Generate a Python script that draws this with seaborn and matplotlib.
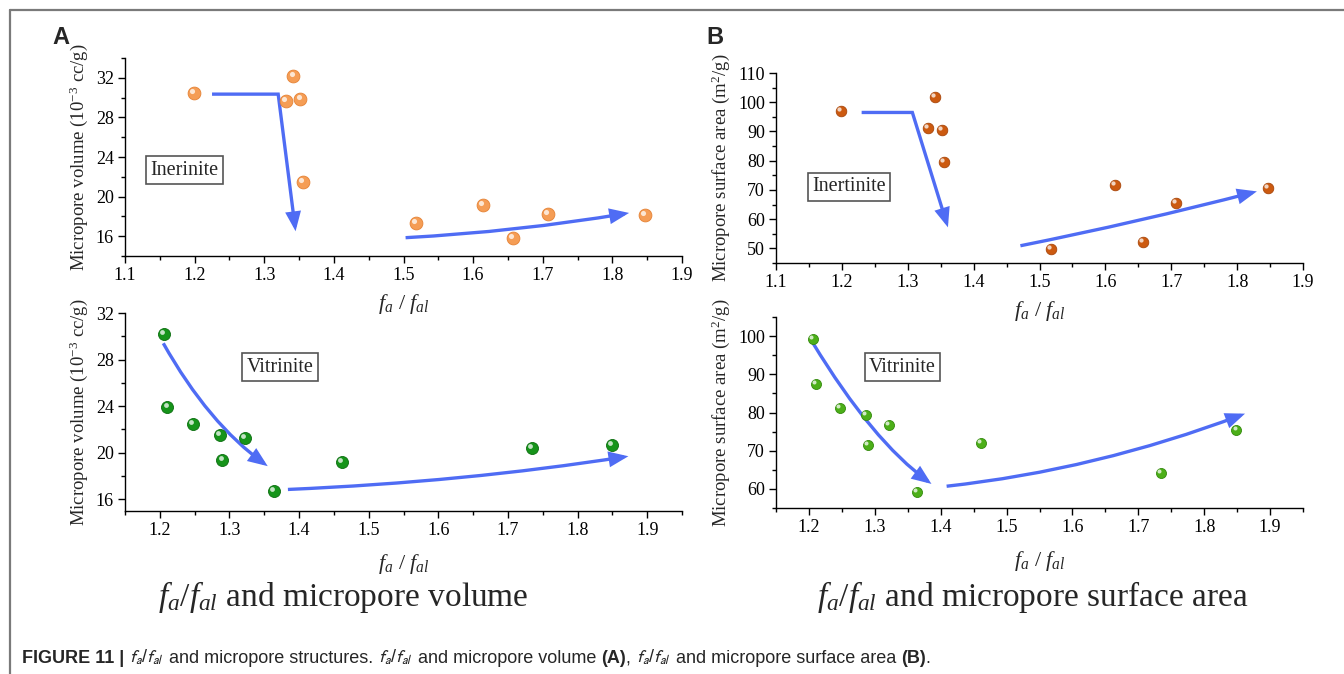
import matplotlib
matplotlib.use("Agg")
import matplotlib.pyplot as plt
import pandas as pd
import seaborn as sns
from matplotlib.patches import FancyArrowPatch
from matplotlib.path import Path
from matplotlib.lines import Line2D
from matplotlib.ticker import MultipleLocator
from matplotlib.transforms import ScaledTranslation

# ---- data -------------------------------------------------------------
inert_fa_fal = [1.199, 1.342, 1.331, 1.352, 1.355, 1.518, 1.614, 1.657, 1.707, 1.847]
inert_volume = [30.5, 32.2, 29.7, 29.9, 21.5, 17.3, 19.2, 15.8, 18.2, 18.1]
inert_area = [97.0, 101.8, 91.1, 90.6, 79.6, 49.9, 71.7, 52.2, 65.4, 70.6]

vitr_fa_fal = [1.206, 1.211, 1.247, 1.287, 1.290, 1.322, 1.364, 1.461, 1.735, 1.849]
vitr_volume = [30.2, 23.9, 22.45, 21.5, 19.4, 21.3, 16.75, 19.25, 20.45, 20.7]
vitr_area = [99.3, 87.5, 81.3, 79.4, 71.6, 76.7, 59.3, 72.0, 64.2, 75.5]

inert = pd.DataFrame({"fa_fal": inert_fa_fal, "volume": inert_volume, "area": inert_area})
vitr = pd.DataFrame({"fa_fal": vitr_fa_fal, "volume": vitr_volume, "area": vitr_area})

# trend arrows (data coordinates): (vertices, path codes)
L, Q = Path.LINETO, Path.CURVE3
arrows_vol_inert = [
    ([(1.225, 30.35), (1.320, 30.35), (1.345, 16.5)], [Path.MOVETO, L, L]),
    ([(1.503, 15.85), (1.6635, 16.46), (1.824, 18.35)], [Path.MOVETO, Q, Q]),
]
arrows_vol_vitr = [
    ([(1.205, 29.4), (1.27, 22.5), (1.355, 18.85)], [Path.MOVETO, Q, Q]),
    ([(1.384, 16.85), (1.6375, 17.5), (1.873, 19.7)], [Path.MOVETO, Q, Q]),
]
arrows_area_inert = [
    ([(1.230, 96.5), (1.307, 96.5), (1.361, 57.2)], [Path.MOVETO, L, L]),
    ([(1.471, 50.9), (1.6505, 59.0), (1.830, 69.5)], [Path.MOVETO, Q, Q]),
]
arrows_area_vitr = [
    ([(1.206, 98.2), (1.296, 72.6), (1.386, 61.3)], [Path.MOVETO, Q, Q]),
    ([(1.409, 60.7), (1.6355, 65.0), (1.862, 79.7)], [Path.MOVETO, Q, Q]),
]

# ---- style ------------------------------------------------------------
sns.set_style("ticks")
plt.rcParams["font.family"] = ["Liberation Serif", "DejaVu Serif"]
plt.rcParams["mathtext.fontset"] = "custom"
plt.rcParams["mathtext.rm"] = "Liberation Serif"
plt.rcParams["mathtext.it"] = "Liberation Serif:italic"
plt.rcParams["mathtext.bf"] = "Liberation Serif:bold"

ARROW = "#4f6cf4"
W, H = 1344, 674
fig = plt.figure(figsize=(W / 100, H / 100), dpi=100)


def axes_px(left, right, top, bottom):
    ax = fig.add_axes([left / W, 1 - bottom / H, (right - left) / W, (bottom - top) / H])
    ax.patch.set_visible(False)
    return ax


def style(ax, xlim, ylim, ymajor, yminor, ylabel, xlabelpad):
    sns.despine(ax=ax)
    for s in ("left", "bottom"):
        ax.spines[s].set_color("black")
        ax.spines[s].set_linewidth(1.0)
    ax.set_xlim(*xlim)
    ax.set_ylim(*ylim)
    ax.xaxis.set_major_locator(MultipleLocator(0.1))
    ax.xaxis.set_minor_locator(MultipleLocator(0.05))
    ax.yaxis.set_major_locator(MultipleLocator(ymajor))
    ax.yaxis.set_minor_locator(MultipleLocator(yminor))
    ax.tick_params(which="major", length=5, width=1, direction="out",
                   labelsize=13, colors="black", pad=3)
    ax.tick_params(which="minor", length=3, width=1, direction="out", colors="black")
    ax.set_xlabel(r"$f_a$ / $f_{al}$", fontsize=16, labelpad=xlabelpad)
    ax.set_ylabel(ylabel, fontsize=13.5, labelpad=4)


def spheres(ax, df, ycol, color, edge, size):
    sns.scatterplot(data=df, x="fa_fal", y=ycol, ax=ax, color=color, s=size,
                    edgecolor=edge, linewidth=0.6, zorder=4, legend=False)
    shift = ax.transData + ScaledTranslation(-1.4 / 72, 1.4 / 72, fig.dpi_scale_trans)
    sns.scatterplot(data=df, x="fa_fal", y=ycol, ax=ax, color="white", s=size * 0.16,
                    alpha=0.75, linewidth=0, zorder=5, legend=False, transform=shift)
    ax.set_xlabel("")
    ax.set_ylabel("")


def trend(ax, verts, codes):
    p = FancyArrowPatch(path=Path(verts, codes), arrowstyle="-|>,head_length=0.55,head_width=0.22",
                        mutation_scale=18, color=ARROW, lw=2.4, transform=ax.transData,
                        joinstyle="miter", capstyle="butt", zorder=3)
    ax.add_patch(p)


def tag(ax, x, y, text):
    ax.text(x, y, text, fontsize=14.5, ha="center", va="center", zorder=6,
            bbox=dict(boxstyle="square,pad=0.22", fc="white", ec="#555555", lw=1.2))


vol_label = r"Micropore volume (10$^{-3}$ cc/g)"
area_label = r"Micropore surface area (m$^{2}$/g)"

# A: micropore volume
ax1 = axes_px(125, 682, 58, 256)
spheres(ax1, inert, "volume", "#f59d55", "#e58235", 85)
for v, c in arrows_vol_inert:
    trend(ax1, v, c)
tag(ax1, 1.185, 22.65, "Inerinite")
style(ax1, (1.1, 1.9), (14, 34), 4, 2, vol_label, 6)

ax2 = axes_px(125, 682, 313, 511)
spheres(ax2, vitr, "volume", "#16941a", "#0c6e10", 75)
for v, c in arrows_vol_vitr:
    trend(ax2, v, c)
tag(ax2, 1.373, 27.35, "Vitrinite")
style(ax2, (1.15, 1.95), (15, 32), 4, 2, vol_label, 9)

# B: micropore surface area
ax3 = axes_px(776, 1303, 73, 263)
spheres(ax3, inert, "area", "#cc5a10", "#a8460a", 58)
for v, c in arrows_area_inert:
    trend(ax3, v, c)
tag(ax3, 1.211, 71.1, "Inertinite")
style(ax3, (1.1, 1.9), (45, 110), 10, 5, area_label, 6)

ax4 = axes_px(776, 1303, 317, 508)
spheres(ax4, vitr, "area", "#4caf18", "#338a0c", 52)
for v, c in arrows_area_vitr:
    trend(ax4, v, c)
tag(ax4, 1.342, 91.8, "Vitrinite")
style(ax4, (1.15, 1.95), (55, 105), 10, 5, area_label, 9)

# panel letters
fig.text(52 / W, 1 - 37 / H, "A", fontsize=17, weight="bold", family="Liberation Sans",
         ha="left", va="center")
fig.text(706 / W, 1 - 37 / H, "B", fontsize=17, weight="bold", family="Liberation Sans",
         ha="left", va="center")

# column titles
fig.text(343 / W, 1 - 597 / H, r"$f_a/f_{al}$ and micropore volume", fontsize=24,
         ha="center", va="center")
fig.text(1033 / W, 1 - 597 / H, r"$f_a/f_{al}$ and micropore surface area", fontsize=24,
         ha="center", va="center")

# figure frame
fig.add_artist(Line2D([10 / W, 1], [1 - 10 / H, 1 - 10 / H], transform=fig.transFigure,
                      color="#7a7a7a", lw=1.6))
fig.add_artist(Line2D([10 / W, 10 / W], [0, 1 - 10 / H], transform=fig.transFigure,
                      color="#7a7a7a", lw=1.6))

# caption, drawn piece by piece on a shared baseline
pieces = [
    ("FIGURE 11 | ", dict(weight="bold")),
    (r"$f_a$/$f_{al}$", dict(math_fontfamily="stixsans")),
    (" and micropore structures. ", {}),
    (r"$f_a$/$f_{al}$", dict(math_fontfamily="stixsans")),
    (" and micropore volume ", {}),
    ("(A)", dict(weight="bold")),
    (", ", {}),
    (r"$f_a$/$f_{al}$", dict(math_fontfamily="stixsans")),
    (" and micropore surface area ", {}),
    ("(B)", dict(weight="bold")),
    (".", {}),
]
renderer = fig.canvas.get_renderer()
xc = 22 / W
for txt, kw in pieces:
    t = fig.text(xc, 1 - 663 / H, txt, fontsize=13, family="Liberation Sans",
                 va="baseline", ha="left", **kw)
    bb = t.get_window_extent(renderer)
    xc = bb.x1 / W

fig.savefig("out.png", dpi=100)
